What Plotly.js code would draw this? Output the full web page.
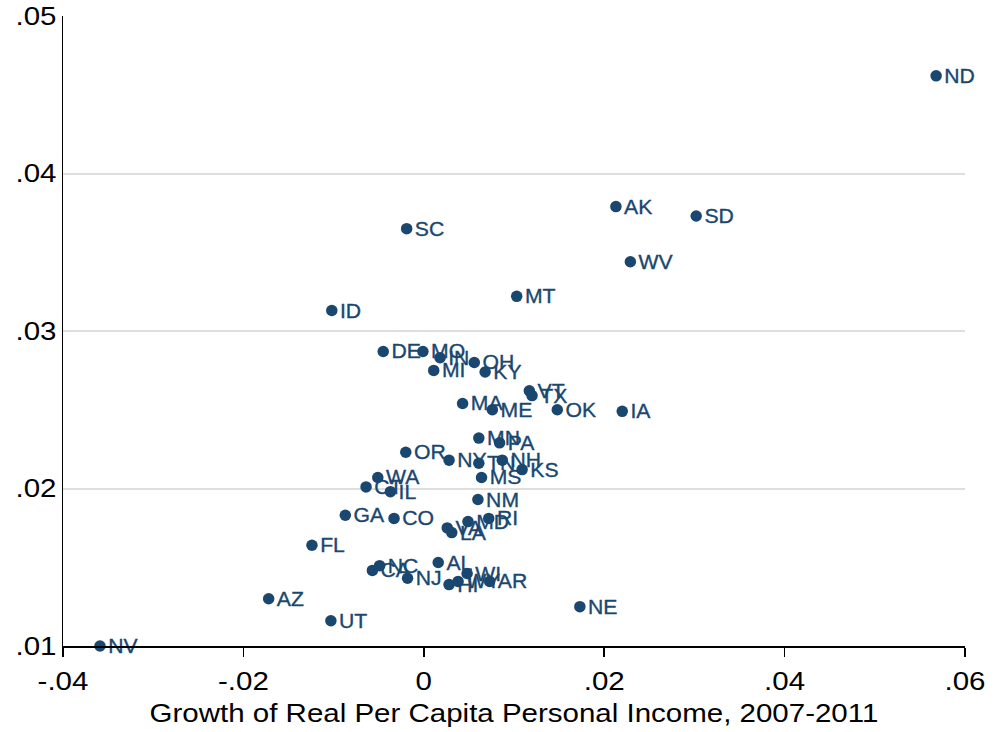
<!DOCTYPE html>
<html>
<head>
<meta charset="utf-8">
<script src="https://cdn.plot.ly/plotly-3.0.1.min.js"></script>
<style>html,body{margin:0;padding:0;background:#fff;}#chart{width:995px;height:732px;}</style>
</head>
<body>
<div id="chart"></div>
<script>
const states = ["ND","AK","SD","SC","WV","MT","ID","DE","MO","IN","OH","MI","KY","VT","TX","MA","ME","OK","IA","MN","PA","OR","NY","TN","NH","KS","MS","WA","CT","IL","NM","GA","CO","VA","LA","MD","RI","FL","AL","NC","CA","NJ","WI","HI","WY","AR","NE","AZ","UT","NV"];
const incomeGrowth = [0.0568,0.0213,0.0302,-0.0019,0.0229,0.0103,-0.0102,-0.0045,-0.0001,0.0018,0.0056,0.0011,0.0068,0.0117,0.0120,0.0043,0.0076,0.0148,0.0220,0.0061,0.0084,-0.0020,0.0028,0.0061,0.0087,0.0109,0.0064,-0.0051,-0.0064,-0.0037,0.0060,-0.0087,-0.0033,0.0026,0.0031,0.0049,0.0072,-0.0124,0.0016,-0.0049,-0.0057,-0.0018,0.0048,0.0028,0.0038,0.0073,0.0173,-0.0172,-0.0103,-0.0359];
const yValues = [0.0462,0.0379,0.0373,0.0365,0.0344,0.0322,0.0313,0.0287,0.0287,0.0283,0.0280,0.0275,0.0274,0.0262,0.0259,0.0254,0.0250,0.0250,0.0249,0.0232,0.0229,0.0223,0.0218,0.0216,0.0218,0.0212,0.0207,0.0207,0.0201,0.0198,0.0193,0.0183,0.0181,0.0175,0.0172,0.0179,0.0181,0.0164,0.0153,0.0151,0.0148,0.0143,0.0146,0.0139,0.0141,0.0141,0.0125,0.0130,0.0116,0.0100];
const xTickVals = [-0.04,-0.02,0,0.02,0.04,0.06];
const xTickText = ["-.04","-.02","0",".02",".04",".06"];
const yTickVals = [0.01,0.02,0.03,0.04,0.05];
const yTickText = [".01",".02",".03",".04",".05"];
const xTitle = "Growth of Real Per Capita Personal Income, 2007-2011";

const navy = "#1a476f";
const trace = {
  x: incomeGrowth, y: yValues, text: states,
  type: "scatter", mode: "markers+text",
  textposition: "middle right",
  marker: {color: navy, size: 11.5},
  textfont: {family: "Liberation Sans, Arial, sans-serif", size: 20, color: navy},
  hoverinfo: "skip", cliponaxis: false
};
const layout = {
  width: 995, height: 732,
  margin: {l: 63, r: 30, t: 16, b: 86},
  paper_bgcolor: "#fff", plot_bgcolor: "#fff",
  showlegend: false,
  font: {family: "Liberation Sans, Arial, sans-serif", color: "#000"},
  xaxis: {
    range: [-0.04, 0.06], tickvals: xTickVals, ticktext: xTickText,
    showgrid: false, zeroline: false, showline: true, linecolor: "#000", linewidth: 1.5,
    ticks: "outside", ticklen: 9, tickwidth: 1.5, tickcolor: "#000",
    ticklabelstandoff: 4,
    tickfont: {size: 25, color: "#000"},
    title: {text: xTitle, font: {size: 25, color: "#000"}, standoff: 10}
  },
  yaxis: {
    range: [0.01, 0.05], tickvals: yTickVals, ticktext: yTickText,
    showgrid: true, gridcolor: "#dedede", gridwidth: 2,
    zeroline: false, showline: true, linecolor: "#000", linewidth: 1.5,
    ticks: "", tickfont: {size: 25, color: "#000"}
  }
};
function stretchText(sel, sx, dy) {
  document.querySelectorAll(sel).forEach(function (t) {
    const x0 = parseFloat(t.getAttribute("x")) || 0;
    const prev = t.getAttribute("transform") || "";
    t.setAttribute("transform", prev + " translate(" + x0 + "," + (dy || 0) + ") scale(" + sx + ",1) translate(" + (-x0) + ",0)");
  });
}
Plotly.newPlot("chart", [trace], layout, {displayModeBar: false, staticPlot: true}).then(function () {
  stretchText("#chart .xtick text", 1.18, 0);
  stretchText("#chart .ytick text", 1.18, 0);
  stretchText("#chart .g-xtitle text", 1.18, 0);
  stretchText("#chart .textpoint text", 1.06, 2);
  document.querySelectorAll("#chart .textpoint text").forEach(function (t) {
    t.style.stroke = navy;
    t.style.strokeWidth = "0.35px";
  });
});
</script>
</body>
</html>
